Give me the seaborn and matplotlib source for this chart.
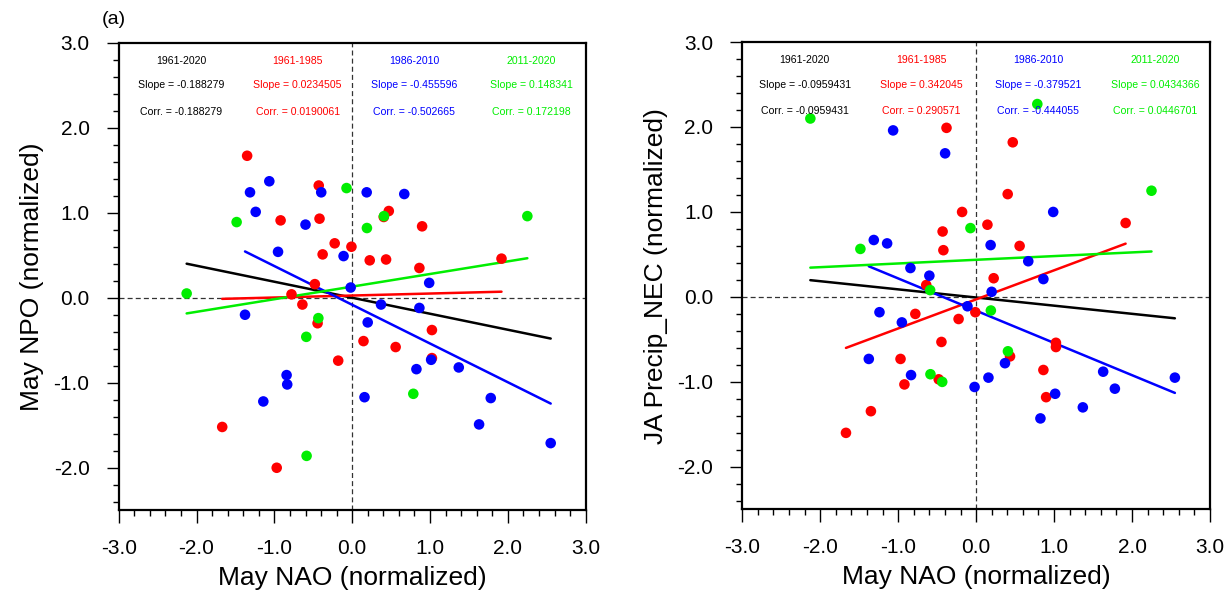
import numpy as np
import pandas as pd
import matplotlib
matplotlib.use("Agg")
import matplotlib.pyplot as plt
from matplotlib.ticker import MultipleLocator, FormatStrFormatter
import seaborn as sns

# ---- May NAO index (x) and responses, by period ----
periods = ["1961-1985", "1986-2010", "2011-2020"]
period_colors = {"1961-1985": "#ff0000", "1986-2010": "#0000ff", "2011-2020": "#00ee00"}

nao_1961_1985 = [-1.67, -1.35, -0.97, -0.92, -0.78, -0.64, -0.48, -0.445, -0.43, -0.42,
                 -0.38, -0.225, -0.18, -0.01, 0.145, 0.225, 0.405, 0.435, 0.47, 0.558,
                 0.863, 0.898, 1.024, 1.024, 1.918]
npo_1961_1985 = [-1.52, 1.67, -2.00, 0.91, 0.04, -0.08, 0.16, -0.30, 1.32, 0.93,
                 0.51, 0.64, -0.74, 0.60, -0.51, 0.44, 0.95, 0.45, 1.02, -0.58,
                 0.35, 0.84, -0.38, -0.71, 0.46]
prc_1961_1985 = [-1.60, -1.345, -0.73, -1.03, -0.20, 0.14, -0.97, -0.53, 0.77, 0.55,
                 1.99, -0.26, 1.00, -0.18, 0.85, 0.22, 1.21, -0.70, 1.82, 0.60,
                 -0.86, -1.18, -0.54, -0.59, 0.87]

nao_1986_2010 = [-1.377, -1.313, -1.24, -1.142, -1.065, -0.953, -0.843, -0.835, -0.60, -0.398,
                 -0.111, -0.02, 0.158, 0.186, 0.199, 0.37, 0.669, 0.825, 0.863, 0.989,
                 1.014, 1.369, 1.63, 1.78, 2.55]
npo_1986_2010 = [-0.20, 1.24, 1.01, -1.22, 1.37, 0.54, -0.91, -1.02, 0.86, 1.24,
                 0.49, 0.12, -1.17, 1.24, -0.29, -0.08, 1.22, -0.84, -0.12, 0.175,
                 -0.73, -0.82, -1.49, -1.18, -1.71]
prc_1986_2010 = [-0.73, 0.67, -0.18, 0.63, 1.96, -0.30, 0.34, -0.92, 0.25, 1.69,
                 -0.11, -1.06, -0.95, 0.61, 0.06, -0.78, 0.42, -1.43, 0.21, 1.00,
                 -1.14, -1.30, -0.88, -1.08, -0.95]

nao_2011_2020 = [-2.127, -1.485, -0.59, -0.586, -0.435, -0.073, 0.189, 0.408, 0.785, 2.25]
npo_2011_2020 = [0.05, 0.89, -0.46, -1.86, -0.24, 1.29, 0.82, 0.96, -1.13, 0.96]
prc_2011_2020 = [2.10, 0.565, 0.08, -0.91, -1.00, 0.81, -0.16, -0.64, 2.27, 1.25]

# ---- regression statistics printed on each panel ----
stat_labels = ["1961-2020", "1961-1985", "1986-2010", "2011-2020"]
slopes_npo = [-0.188279, 0.0234505, -0.455596, 0.148341]
slopes_prc = [-0.0959431, 0.342045, -0.379521, 0.0434366]
intercepts_npo = [0.0, 0.026, -0.083, 0.131]
intercepts_prc = [-0.007, -0.029, -0.162, 0.437]
slope_strs_npo = ["-0.188279", "0.0234505", "-0.455596", "0.148341"]
corr_strs_npo = ["-0.188279", "0.0190061", "-0.502665", "0.172198"]
slope_strs_prc = ["-0.0959431", "0.342045", "-0.379521", "0.0434366"]
corr_strs_prc = ["-0.0959431", "0.290571", "-0.444055", "0.0446701"]
stat_colors = ["#000000", "#ff0000", "#0000ff", "#00ee00"]

df = pd.DataFrame({
    "period": (["1961-1985"] * len(nao_1961_1985) + ["1986-2010"] * len(nao_1986_2010)
               + ["2011-2020"] * len(nao_2011_2020)),
    "nao": nao_1961_1985 + nao_1986_2010 + nao_2011_2020,
    "npo": npo_1961_1985 + npo_1986_2010 + npo_2011_2020,
    "prc": prc_1961_1985 + prc_1986_2010 + prc_2011_2020,
})

sns.set_theme(style="ticks")
plt.rcParams["font.family"] = ["Liberation Sans", "DejaVu Sans"]
for key in ("text.color", "axes.labelcolor", "xtick.color", "ytick.color", "axes.edgecolor"):
    plt.rcParams[key] = "black"

fig = plt.figure(figsize=(12.3, 5.98), dpi=100)
ax_l = fig.add_axes([0.0965, 0.1467, 0.3797, 0.7819])
ax_r = fig.add_axes([0.6035, 0.1483, 0.3802, 0.7814])


def fit_line(sub, slope, intercept):
    """Regression line y = intercept + slope * x over the group's x range."""
    xs = np.array([sub["nao"].min(), sub["nao"].max()])
    return pd.DataFrame({"x": xs, "y": intercept + slope * xs})


def draw_panel(ax, ycol, slopes, intercepts, slope_strs, corr_strs, ylabel):
    ax.axhline(0, color="#333333", lw=0.9, ls=(0, (4, 2.5)), zorder=1)
    ax.axvline(0, color="#333333", lw=0.9, ls=(0, (4, 2.5)), zorder=1)

    groups = [df] + [df[df["period"] == p] for p in periods]
    for sub, s, b, c in zip(groups, slopes, intercepts, stat_colors):
        line = fit_line(sub, s, b)
        sns.lineplot(data=line, x="x", y="y", ax=ax, color=c, lw=1.8,
                     sort=False, estimator=None, zorder=2)

    sns.scatterplot(data=df, x="nao", y=ycol, hue="period", palette=period_colors,
                    hue_order=periods, s=58, linewidth=0, ax=ax, legend=False, zorder=3)

    cols_x = [-2.2, -0.7, 0.8, 2.3]
    for cx, lab, ss, cs, c in zip(cols_x, stat_labels, slope_strs, corr_strs, stat_colors):
        ax.text(cx, 2.79, lab, color=c, ha="center", va="center", fontsize=7.6)
        ax.text(cx, 2.50, f"Slope = {ss}", color=c, ha="center", va="center", fontsize=7.6)
        ax.text(cx, 2.19, f"Corr. = {cs}", color=c, ha="center", va="center", fontsize=7.6)

    ax.set_xlim(-3, 3)
    ax.set_ylim(-2.5, 3)
    ax.xaxis.set_major_locator(MultipleLocator(1.0))
    ax.xaxis.set_minor_locator(MultipleLocator(0.2))
    ax.yaxis.set_major_locator(MultipleLocator(1.0))
    ax.yaxis.set_minor_locator(MultipleLocator(0.2))
    ax.xaxis.set_major_formatter(FormatStrFormatter("%.1f"))
    ax.yaxis.set_major_formatter(FormatStrFormatter("%.1f"))
    ax.tick_params(which="both", direction="out", top=False, right=False,
                   color="black", labelcolor="black", width=1.0)
    ax.tick_params(which="major", length=9, labelsize=15, pad=12)
    ax.tick_params(which="minor", length=4.5)
    for sp in ax.spines.values():
        sp.set_visible(True)
        sp.set_linewidth(1.6)
        sp.set_color("black")

    ax.set_xlabel("May NAO (normalized)", fontsize=19, color="black")
    ax.set_ylabel(ylabel, fontsize=19, color="black")
    ax.xaxis.label.set_va("center")
    ax.yaxis.label.set_va("center")
    ax.xaxis.set_label_coords(0.5, -0.145)
    ax.yaxis.set_label_coords(-0.185, 0.5)


draw_panel(ax_l, "npo", slopes_npo, intercepts_npo, slope_strs_npo, corr_strs_npo,
           "May NPO (normalized)")
draw_panel(ax_r, "prc", slopes_prc, intercepts_prc, slope_strs_prc, corr_strs_prc,
           "JA Precip_NEC (normalized)")

fig.text(114 / 1230, 1 - 20 / 598, "(a)", ha="center", va="center", fontsize=14)

fig.savefig("out.png", dpi=100, facecolor="white")
